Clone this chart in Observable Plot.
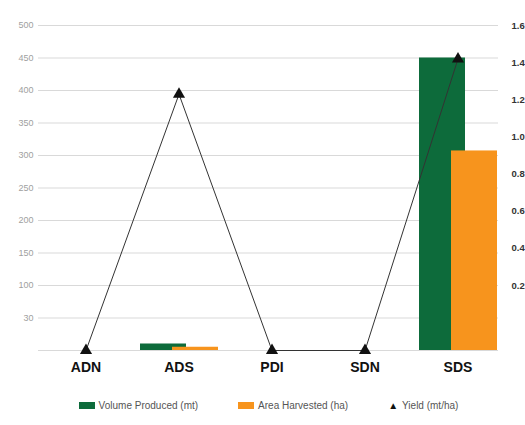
<!DOCTYPE html>
<html>
<head>
<meta charset="utf-8">
<script src="https://cdn.jsdelivr.net/npm/d3@7"></script>
<script src="https://cdn.jsdelivr.net/npm/@observablehq/plot@0.6"></script>
<style>
  html, body { margin: 0; padding: 0; background: #fff; }
  #chart { width: 525px; }
  .legend { display: flex; justify-content: center; align-items: center; gap: 40px;
            font-family: "Liberation Sans", Arial, sans-serif; font-size: 10px; color: #555;
            margin-top: 20px; margin-left: 12px; }
  .legend span.item { display: flex; align-items: center; gap: 4px; }
  .sw { display: inline-block; width: 16px; height: 7px; }
</style>
</head>
<body>
<div id="chart"></div>
<script>
const categories = ["ADN", "ADS", "PDI", "SDN", "SDS"];
const volumeProduced = [0, 10, 0, 0, 450];
const areaHarvested = [0, 5, 0, 0, 307];
const yieldValues = [0, 1.23, 0, 0, 1.42];
const leftTickValues = [50, 100, 150, 200, 250, 300, 350, 400, 450, 500];
const leftTickLabels = ["30", "100", "150", "200", "250", "300", "350", "400", "450", "500"];
const rightTickValues = [0.2, 0.4, 0.6, 0.8, 1.0, 1.2, 1.4, 1.6];
const rightTickLabels = ["0.2", "0.4", "0.6", "0.8", "1.0", "1.2", "1.4", "1.6"];

const GREEN = "#0d6b3b";
const ORANGE = "#f7941d";

// the reference's right axis runs from 0.2 (level with 100) to 1.6 (level with 500)
const yieldToLeft = v => v === 0 ? 0 : 100 + (v - 0.2) * 400 / 1.4;

const rows = categories.map((c, i) => ({
  cat: c, vol: volumeProduced[i], area: areaHarvested[i],
  yl: yieldToLeft(yieldValues[i])
}));

const rightPos = rightTickValues.map(yieldToLeft);

const chart = Plot.plot({
  width: 525,
  height: 380,
  marginLeft: 38,
  marginRight: 20,
  marginTop: 25,
  marginBottom: 30,
  style: { fontFamily: "Liberation Sans, Arial, sans-serif", background: "#fff" },
  x: { domain: categories, padding: 0 },
  y: { domain: [0, 500] },
  marks: [
    Plot.ruleY([0, ...leftTickValues], { stroke: "#d9d9d9", strokeWidth: 1, insetRight: 7 }),
    Plot.axisY({
      anchor: "left", ticks: leftTickValues, tickSize: 0, tickPadding: 5,
      tickFormat: d => leftTickLabels[leftTickValues.indexOf(d)],
      fill: "#a0a0a0", fontSize: 9, label: null
    }),
    Plot.axisY({
      anchor: "right", ticks: rightPos, tickSize: 0, tickPadding: 6,
      tickFormat: d => rightTickLabels[rightPos.indexOf(d)],
      fill: "#333", fontSize: 9.5, fontWeight: "bold", label: null
    }),
    Plot.axisX({
      tickSize: 0, tickPadding: 12, fontSize: 14, fontWeight: "bold", fill: "#111", label: null
    }),
    Plot.barY(rows, { x: "cat", y: "vol", fill: GREEN, insetLeft: 24, insetRight: 23, dx: -16 }),
    Plot.barY(rows, { x: "cat", y: "area", fill: ORANGE, insetLeft: 24, insetRight: 23, dx: 16 }),
    Plot.line(rows, { x: "cat", y: "yl", stroke: "#333", strokeWidth: 1 }),
    Plot.dot(rows, { x: "cat", y: "yl", symbol: "triangle", fill: "#111", r: 4.5 })
  ]
});
document.getElementById("chart").appendChild(chart);

const legend = document.createElement("div");
legend.className = "legend";
legend.innerHTML = `
  <span class="item"><span class="sw" style="background:${GREEN}"></span>Volume Produced (mt)</span>
  <span class="item"><span class="sw" style="background:${ORANGE}"></span>Area Harvested (ha)</span>
  <span class="item"><span style="font-size:10px;color:#111">&#9650;</span>Yield (mt/ha)</span>`;
document.getElementById("chart").appendChild(legend);
</script>
</body>
</html>
